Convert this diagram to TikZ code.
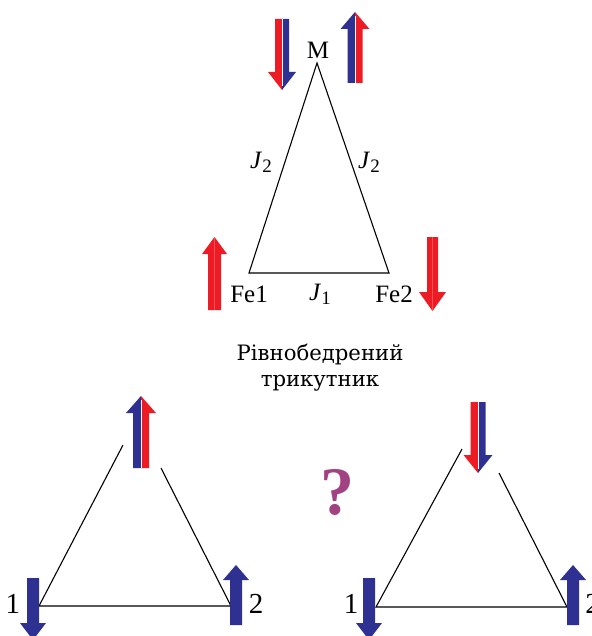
\documentclass[tikz,border=0pt]{standalone}
\usepackage{fontspec}
\setmainfont{Liberation Serif}
\newfontfamily\capfont{DejaVu Serif}
\definecolor{spinred}{RGB}{237,28,36}
\definecolor{spinblue}{RGB}{46,49,146}
\definecolor{qpurple}{RGB}{163,66,130}
% #1 cx, #2 base y, #3 head-start y, #4 tip y, #5 shaft half width, #6 head half width, #7 left colour, #8 right colour
\newcommand{\spinarrow}[8]{%
  \fill[#7] (#1,#2) -- (#1-#5,#2) -- (#1-#5,#3) -- (#1-#6,#3) -- (#1,#4) -- cycle;
  \fill[#8] (#1,#2) -- (#1+#5,#2) -- (#1+#5,#3) -- (#1+#6,#3) -- (#1,#4) -- cycle;
}
\newcommand{\spingap}[3]{\draw[white,line width=0.35pt] (#1,#2) -- (#1,#3);}
\begin{document}
\begin{tikzpicture}[x=0.5pt,y=-0.5pt,
  edge/.style={draw=black,line width=0.55pt},
  lbl/.style={font=\fontsize{12.5}{14}\selectfont,inner sep=0pt},
  numlbl/.style={font=\fontsize{14.5}{16}\selectfont,inner sep=0pt},
  captext/.style={font=\capfont\fontsize{10.6}{13}\selectfont,align=center,inner sep=0pt}]
\useasboundingbox (0,0) rectangle (591,636);

% ---------- top isosceles triangle ----------
\coordinate (M) at (317,63);
\coordinate (F1) at (249,273);
\coordinate (F2) at (389,273);
\draw[edge] (M) -- (F1) -- (F2) -- cycle;
\node[lbl] (lM) at (318,50) {M};
\node[lbl] (lF1) at (249,294) {Fe1};
\node[lbl] (lF2) at (394,294) {Fe2};
\node[lbl] (lJ1) at (320,294) {\textit{J}\raisebox{-0.35ex}{\fontsize{9.5}{10}\selectfont 1}};
\node[lbl] (lJ2a) at (261,162) {\textit{J}\raisebox{-0.35ex}{\fontsize{9.5}{10}\selectfont 2}};
\node[lbl] (lJ2b) at (369,162) {\textit{J}\raisebox{-0.35ex}{\fontsize{9.5}{10}\selectfont 2}};

\spinarrow{282}{19}{72}{90}{7}{14}{spinred}{spinblue}
\spingap{282}{19}{86}
\spinarrow{355}{83}{29}{12}{7.5}{14.5}{spinblue}{spinred}
\spingap{355}{83}{16}
\spinarrow{214.5}{310}{254}{237}{6.5}{12.5}{spinred}{spinred}
\spinarrow{432.5}{237}{292}{311}{5.5}{13.5}{spinred}{spinred}

\node[captext] (caption) at (320,368) {Рівнобедрений\\трикутник};

% ---------- bottom left triangle ----------
\coordinate (L1) at (39,606);
\coordinate (L2) at (231,606);
\coordinate (Lal) at (123,445);
\coordinate (Lar) at (161,468);
\draw[edge] (Lal) -- (L1) -- (L2) -- (Lar);
\spinarrow{141}{468}{413}{396}{8}{15}{spinblue}{spinred}
\spingap{141}{468}{400}
\spinarrow{33}{578}{623}{640}{6}{13}{spinblue}{spinblue}
\spinarrow{236}{625}{580}{565}{6}{13}{spinblue}{spinblue}
\node[numlbl] (n1a) at (13,604) {1};
\node[numlbl] (n2a) at (256,604) {2};

% ---------- question mark ----------
\node[font=\fontsize{34}{36}\selectfont\bfseries,text=qpurple,inner sep=0pt] (q) at (337,492) {?};

% ---------- bottom right triangle ----------
\coordinate (R1) at (376,607);
\coordinate (R2) at (567,607);
\coordinate (Ral) at (462,449);
\coordinate (Rar) at (499,473);
\draw[edge] (Ral) -- (R1) -- (R2) -- (Rar);
\spinarrow{478}{402}{455}{473}{7.5}{14.5}{spinred}{spinblue}
\spingap{478}{402}{469}
\spinarrow{369}{578}{623}{640}{6}{13}{spinblue}{spinblue}
\spinarrow{573}{625}{580}{565}{6}{13}{spinblue}{spinblue}
\node[numlbl] (n1b) at (351,604) {1};
\node[numlbl,anchor=west] (n2b) at (585,604) {2};
\end{tikzpicture}
\end{document}
